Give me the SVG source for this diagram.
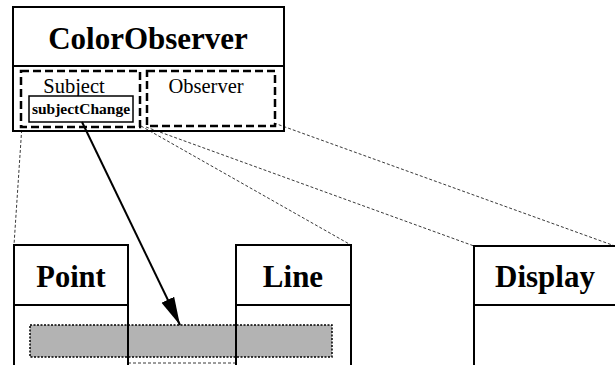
<svg xmlns="http://www.w3.org/2000/svg" width="615" height="365" viewBox="0 0 615 365">
<style>
.box{fill:none;stroke:#000;stroke-width:2}
.dbox{fill:none;stroke:#000;stroke-width:2.5;stroke-dasharray:8,4}
.thin{fill:none;stroke:#222;stroke-width:0.9;stroke-dasharray:3,2}
.t{font-family:"Liberation Serif","Times New Roman",serif;fill:#000;text-anchor:middle}
.b{font-weight:bold}
</style>
<defs>
<marker id="ah" markerUnits="userSpaceOnUse" markerWidth="30" markerHeight="16" refX="28" refY="8" orient="auto">
<path d="M0,1 L28,8 L0,15 Z" fill="#000"/>
</marker>
</defs>
<rect width="615" height="365" fill="#fff"/>
<g id="connectors">
<line class="thin" x1="22" y1="125" x2="14" y2="245"/>
<line class="thin" x1="141" y1="126" x2="351" y2="245"/>
<line class="thin" x1="146" y1="127" x2="474" y2="246"/>
<line class="thin" x1="274" y1="123" x2="615" y2="246"/>
<line class="thin" x1="128" y1="363" x2="236" y2="363"/>
</g>
<g id="bar">
<rect x="30" y="325" width="302" height="32" fill="#b3b3b3" stroke="#000" stroke-width="1.5" stroke-dasharray="2,1.5"/>
</g>
<g id="ColorObserver">
<rect class="box" x="13" y="7" width="271" height="124"/>
<line x1="13" y1="66" x2="284" y2="66" stroke="#000" stroke-width="2"/>
<text class="t b" x="148" y="49" font-size="31">ColorObserver</text>
<g id="Subject">
<rect class="dbox" x="21" y="71" width="119" height="56"/>
<text class="t" x="74" y="93" font-size="20.5">Subject</text>
</g>
<g id="Observer">
<rect class="dbox" x="147" y="71" width="128" height="55"/>
<text class="t" x="206" y="93" font-size="20.5">Observer</text>
</g>
<g id="subjectChange">
<rect x="29" y="96" width="104" height="26" fill="#fff" stroke="#000" stroke-width="1.5"/>
<text class="t b" x="81" y="114" font-size="15.5">subjectChange</text>
</g>
</g>
<g id="Point">
<rect class="box" x="14" y="245" width="114" height="130"/>
<line x1="14" y1="305" x2="128" y2="305" stroke="#000" stroke-width="2"/>
<text class="t b" x="71" y="287" font-size="30.5">Point</text>
</g>
<g id="Line">
<rect class="box" x="236" y="245" width="115" height="130"/>
<line x1="236" y1="305" x2="351" y2="305" stroke="#000" stroke-width="2"/>
<text class="t b" x="293" y="287" font-size="31">Line</text>
</g>
<g id="Display">
<rect class="box" x="474" y="246" width="145" height="130"/>
<line x1="474" y1="305" x2="619" y2="305" stroke="#000" stroke-width="2"/>
<text class="t b" x="545" y="287" font-size="31">Display</text>
</g>
<g id="arrow">
<line x1="82" y1="122" x2="180" y2="325" stroke="#000" stroke-width="2" marker-end="url(#ah)"/>
</g>
</svg>
